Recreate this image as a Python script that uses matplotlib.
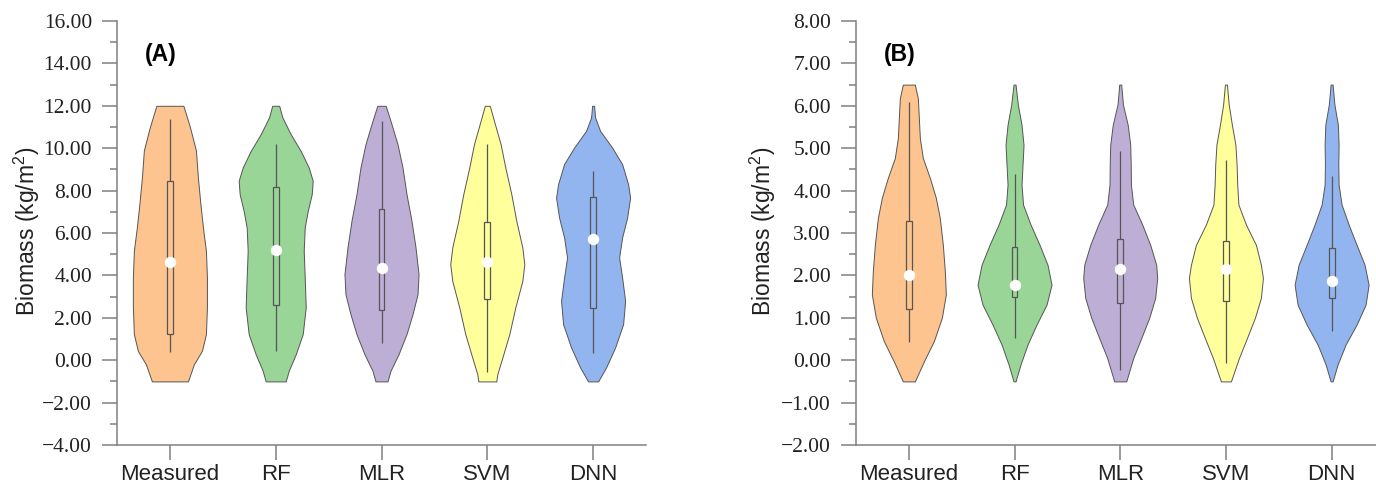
import numpy as np
import matplotlib
matplotlib.use("Agg")
import matplotlib.pyplot as plt
from matplotlib.ticker import MultipleLocator, FuncFormatter

plt.rcParams["mathtext.fontset"] = "custom"
plt.rcParams["mathtext.rm"] = "Liberation Sans"
plt.rcParams["mathtext.it"] = "Liberation Sans:italic"

categories = ["Measured", "RF", "MLR", "SVM", "DNN"]
colors = ["#fdc48f", "#98d597", "#bdaed6", "#ffff9c", "#93b5ef"]

# panel A: violin outlines (value, half width)
a_coords = [
    [-1.0, -0.19, 0.44, 1.23, 2.5, 3.9, 5.16, 6.27, 7.36, 8.6, 9.9, 11.0, 12.0],
    [-1.0, -0.5, 0.28, 1.23, 2.49, 3.9, 5.16, 6.26, 7.04, 7.83, 8.46, 9.09, 9.87, 10.66, 11.45, 12.0],
    [-1.0, -0.5, 0.28, 1.23, 2.17, 3.11, 4.06, 5.32, 6.57, 7.83, 9.09, 10.19, 11.29, 12.0],
    [-1.0, -0.66, 0.12, 1.23, 2.49, 3.74, 4.53, 5.32, 6.57, 7.83, 9.09, 10.19, 11.29, 12.0],
    [-1.0, -0.34, 0.6, 1.7, 2.8, 3.9, 4.84, 5.79, 6.73, 7.67, 8.3, 9.25, 10.03, 10.82, 11.45, 12.0],
]
a_widths = [
    [18, 24, 32, 36, 37, 37, 36, 33, 30.5, 28, 26, 20, 13.5],
    [10, 13, 20, 27, 30, 29, 28, 29, 32, 36, 37, 33, 25, 15, 6.7, 3.5],
    [6, 9, 17, 25, 31, 36, 37, 34, 30, 25, 21, 16, 9, 4.2],
    [9, 10, 15, 22, 28, 35, 37, 35, 29, 24, 18, 13.3, 6.7, 2.5],
    [5, 13, 22, 30, 32, 29, 26, 29, 34, 37, 35, 29, 19, 7, 2, 1],
]
a_median = [4.61, 5.19, 4.37, 4.61, 5.71]
a_q1 = [1.23, 2.61, 2.36, 2.88, 2.48]
a_q3 = [8.43, 8.15, 7.12, 6.54, 7.70]
a_lo = [0.38, 0.44, 0.83, -0.58, 0.36]
a_hi = [11.40, 10.19, 11.30, 10.19, 8.93]

# panel B
b_coords = [
    [-0.5, -0.03, 0.45, 1.0, 1.55, 2.1, 2.72, 3.35, 3.83, 4.3, 4.77, 5.24, 5.71, 6.18, 6.5],
    [-0.5, -0.1, 0.37, 0.84, 1.31, 1.78, 2.25, 2.72, 3.2, 3.67, 4.14, 4.61, 5.08, 5.55, 6.03, 6.5],
    [-0.5, 0.05, 0.52, 1.0, 1.47, 1.94, 2.25, 2.72, 3.2, 3.67, 4.14, 4.61, 5.08, 5.55, 6.03, 6.5],
    [-0.5, 0.05, 0.52, 1.0, 1.47, 1.94, 2.25, 2.72, 3.2, 3.67, 4.14, 4.61, 5.08, 5.55, 6.03, 6.5],
    [-0.5, -0.1, 0.37, 0.84, 1.31, 1.78, 2.25, 2.72, 3.2, 3.67, 4.14, 4.61, 5.08, 5.55, 6.03, 6.5],
]
b_widths = [
    [6, 15, 25, 33, 37, 36, 34, 31, 27, 21, 14, 11, 10, 9, 6],
    [1, 6, 13, 22, 32, 37, 33, 25, 16, 8.5, 7, 8, 9, 7, 3.3, 1],
    [6, 13, 21, 29, 35, 37, 36, 30, 22, 13, 10.7, 10.5, 10, 7.5, 2.7, 1],
    [5, 13, 21, 29, 35, 37, 35, 30, 20, 12.5, 11.3, 10.7, 9.5, 6, 2.8, 1],
    [1, 6, 14, 25, 34, 37, 33, 25, 17, 10, 7, 6.7, 7, 6.3, 2.8, 1],
]
b_median = [2.02, 1.77, 2.16, 2.15, 1.86]
b_q1 = [1.21, 1.50, 1.34, 1.40, 1.47]
b_q3 = [3.28, 2.66, 2.87, 2.80, 2.65]
b_lo = [0.42, 0.52, -0.22, -0.07, 0.68]
b_hi = [6.09, 4.38, 4.93, 4.73, 4.35]

GRAY = "#808080"
EDGE = "#555555"


def fmt(v, _):
    return ("%.2f" % v).replace("-", "\u2212")


def draw_panel(ax, coords, widths, med, q1, q3, lo, hi, ylim, major, minor, tag):
    pos = np.arange(len(categories))
    stats = []
    for c, w, m in zip(coords, widths, med):
        stats.append({"coords": np.array(c), "vals": np.array(w, float),
                      "mean": m, "median": m, "min": c[0], "max": c[-1]})
    parts = ax.violin(stats, positions=pos, widths=0.7,
                      showmeans=False, showextrema=False, showmedians=False)
    for body, col in zip(parts["bodies"], colors):
        body.set_facecolor(col)
        body.set_edgecolor(EDGE)
        body.set_linewidth(0.7)
        body.set_alpha(1)

    ax.vlines(pos, lo, hi, color=EDGE, linewidth=0.9, zorder=3)
    ax.bar(pos, np.array(q3) - np.array(q1), bottom=q1, width=0.055,
           color=colors, edgecolor=EDGE, linewidth=0.9, zorder=4)
    ax.plot(pos, med, "o", ms=7.2, mfc="white", mec="white", zorder=5)

    ax.set_ylim(*ylim)
    ax.yaxis.set_major_locator(MultipleLocator(major))
    ax.yaxis.set_minor_locator(MultipleLocator(minor))
    ax.yaxis.set_major_formatter(FuncFormatter(fmt))
    ax.set_xticks(pos)
    ax.set_xticklabels(categories, fontsize=16, family="Liberation Sans")
    for lab in ax.get_yticklabels():
        lab.set_family("Liberation Serif")
        lab.set_fontsize(15.5)

    for s in ("top", "right"):
        ax.spines[s].set_visible(False)
    for s in ("left", "bottom"):
        ax.spines[s].set_color(GRAY)
        ax.spines[s].set_linewidth(1.1)
    ax.tick_params(axis="y", which="major", length=11, width=1.1, color=GRAY,
                   pad=7, labelcolor="#222222")
    ax.tick_params(axis="y", which="minor", length=5, width=1.1, color=GRAY)
    ax.tick_params(axis="x", length=11, width=1.1, color=GRAY, pad=3,
                   labelcolor="#222222")

    ax.text(-0.24, ylim[0] + (ylim[1] - ylim[0]) * 0.922, tag, fontsize=16.5,
            fontweight="bold", family="Liberation Sans", va="center")


fig = plt.figure(figsize=(13.76, 4.90), dpi=100)
ax1 = fig.add_axes([117 / 1376, 1 - 445 / 490, 529 / 1376, 424 / 490])
ax2 = fig.add_axes([856 / 1376, 1 - 445 / 490, 520 / 1376, 424 / 490])

draw_panel(ax1, a_coords, a_widths, a_median, a_q1, a_q3, a_lo, a_hi,
           (-4, 16), 2, 1, "(A)")
ax1.set_xlim(-0.5, 4.5)
draw_panel(ax2, b_coords, b_widths, b_median, b_q1, b_q3, b_lo, b_hi,
           (-2, 8), 1, 0.5, "(B)")
ax2.set_xlim(-0.5, 4.42)

ylab = "Biomass (kg/m$^2$)"
fig.text(27 / 1376, 1 - 231 / 490, ylab, rotation=90, ha="center", va="center",
         fontsize=16.5, family="Liberation Sans", color="#222222")
fig.text(763 / 1376, 1 - 231 / 490, ylab, rotation=90, ha="center", va="center",
         fontsize=16.5, family="Liberation Sans", color="#222222")

fig.savefig("out.png", dpi=100)
